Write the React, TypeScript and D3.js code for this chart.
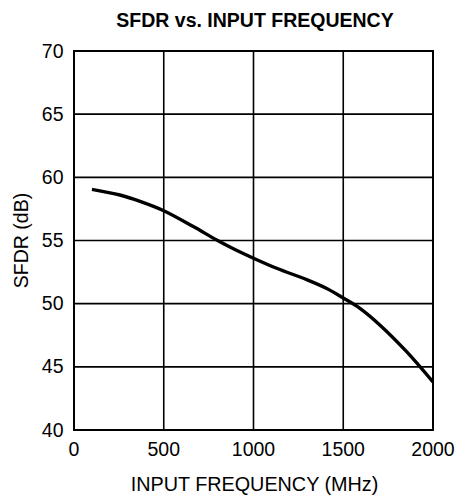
import React from "react";
import * as d3 from "d3";

const title = "SFDR vs. INPUT FREQUENCY";
const xLabel = "INPUT FREQUENCY (MHz)";
const yLabel = "SFDR (dB)";
const xTicks = [0, 500, 1000, 1500, 2000];
const yTicks = [40, 45, 50, 55, 60, 65, 70];
const freq = [100, 256, 368, 500, 665, 795, 888, 1000, 1129, 1296, 1408, 1500, 1593, 1705, 1853, 2000];
const sfdr = [59.05, 58.6, 58.1, 57.36, 56.1, 55.04, 54.35, 53.6, 52.8, 51.9, 51.2, 50.45, 49.63, 48.3, 46.2, 43.8];

export default function App() {
  const W = 458, H = 499;
  const L = 74, R = 433, T = 51, B = 430;
  const x = d3.scaleLinear().domain([0, 2000]).range([L, R]);
  const y = d3.scaleLinear().domain([40, 70]).range([B, T]);
  const pts = freq.map((f, i) => [f, sfdr[i]] as [number, number]);
  const line = d3.line<[number, number]>().x(d => x(d[0])).y(d => y(d[1])).curve(d3.curveCatmullRom.alpha(0.5));
  const font = "'Liberation Sans', Arial, sans-serif";
  const fs = 19.5;
  return (
    <svg width={W} height={H} style={{ position: "absolute", left: 0, top: 0, background: "#fff" }} fontFamily={font}>
      <text x={255} y={27} textAnchor="middle" fontSize={19.5} fontWeight="bold" fill="#000">{title}</text>
      {xTicks.map(t => (
        <line key={"vx" + t} x1={x(t)} x2={x(t)} y1={T} y2={B} stroke="#000" strokeWidth={1.6} />
      ))}
      {yTicks.map(t => (
        <line key={"hy" + t} x1={L} x2={R} y1={y(t)} y2={y(t)} stroke="#000" strokeWidth={1.6} />
      ))}
      <rect x={L} y={T} width={R - L} height={B - T} fill="none" stroke="#000" strokeWidth={2} />
      {yTicks.map(t => (
        <text key={"yl" + t} x={63.5} y={y(t) + 6.5} textAnchor="end" fontSize={fs} fill="#000">{t}</text>
      ))}
      {xTicks.map(t => (
        <text key={"xl" + t} x={x(t)} y={456} textAnchor="middle" fontSize={fs} fill="#000">{t}</text>
      ))}
      <text x={(L + R) / 2 + 1} y={491} textAnchor="middle" fontSize={fs + 0.3} fill="#000">{xLabel}</text>
      <text transform={`translate(28,${(T + B) / 2}) rotate(-90)`} textAnchor="middle" fontSize={fs} fill="#000">{yLabel}</text>
      <path d={line(pts) || ""} fill="none" stroke="#000" strokeWidth={3.4} strokeLinecap="butt" />
    </svg>
  );
}
